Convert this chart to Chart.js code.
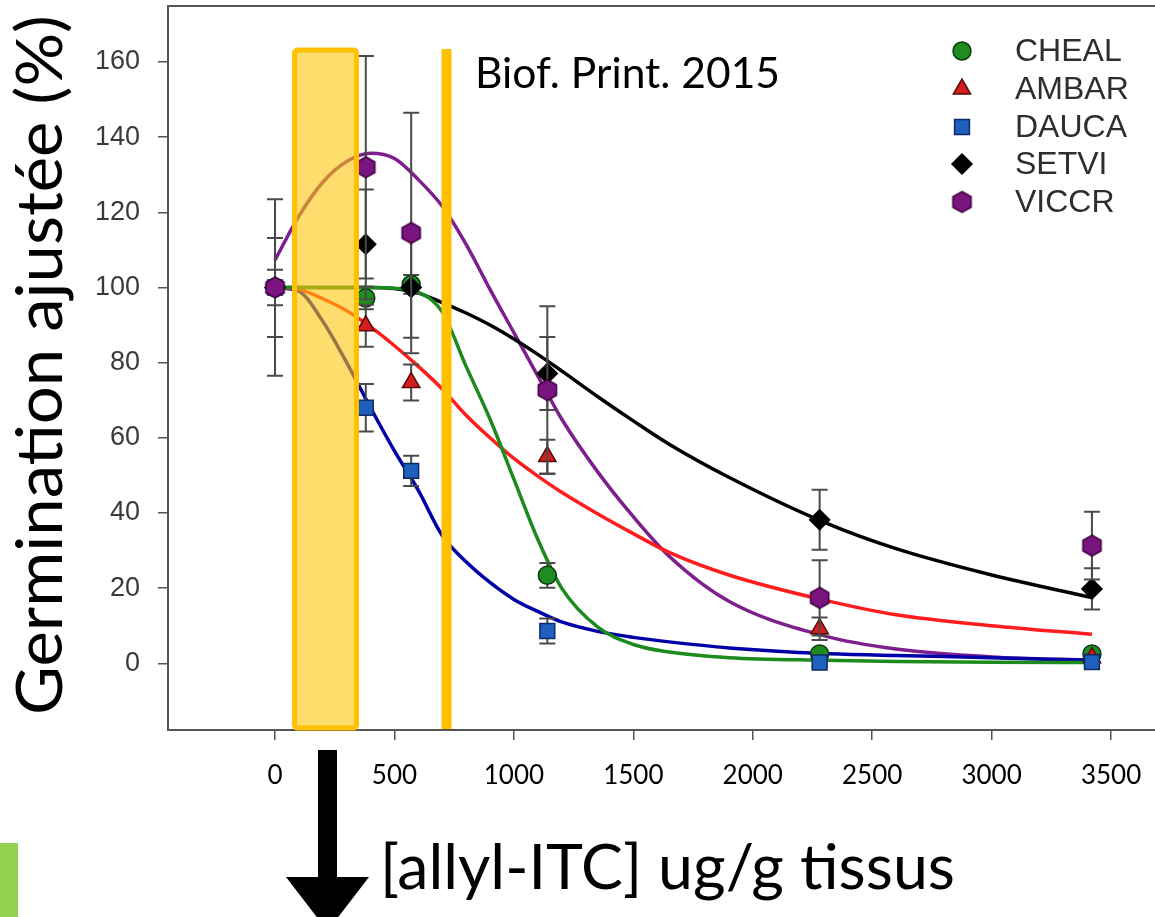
<!DOCTYPE html>
<html>
<head>
<meta charset="utf-8">
<script src="https://cdn.jsdelivr.net/npm/chart.js@4.4.1/dist/chart.umd.min.js"></script>
<style>
  html, body { margin: 0; padding: 0; background: #fff; }
  canvas { display: block; }
</style>
</head>
<body>
<canvas id="germChart" width="1155" height="917"></canvas>
<script>
// doses (ug/g) where germination was measured
const doses = [0, 380, 570, 1140, 2280, 3420];

// means and error bars per species
const chealMean = [100, 97.2, 100.8, 23.4, 2.5, 2.5];
const chealErr  = [4.7, 3, 2.5, 3.3, 1, 1];
const ambarMean = [100, 89.8, 74.7, 55, 9.2, 1.5];
const ambarErr  = [1.5, 5.6, 4.8, 4.5, 3, 1];
const daucaMean = [100, 68, 51.2, 8.6, 0.2, 0.3];
const daucaErr  = [1, 6.3, 4, 3.3, 1, 1];
const setviMean = [100, 111.5, 100, 77.1, 38.2, 19.8];
const setviErr  = [13.2, 14.6, 13.4, 9.7, 8, 5.5];
const viccrMean = [100, 132, 114.5, 72.7, 17.4, 31.3];
const viccrErr  = [23.5, 29.6, 32, 22.3, 10, 9];

// fitted curves
const fitDoses = [0, 100, 200, 300, 400, 500, 600, 700, 800, 900, 1000, 1100, 1200, 1350, 1500, 1650, 1900, 2300, 2600, 3000, 3420];
const chealFit = [100, 100, 100, 100, 100, 99.8, 98.7, 93.5, 79, 65, 49, 33, 20, 9.7, 5, 3, 1.5, 0.8, 0.5, 0.3, 0.2];
const ambarFit = [100, 99.5, 97, 93.8, 89.5, 84.5, 79, 73, 66, 60, 54.5, 49.8, 45.5, 39.8, 34.5, 29.5, 23.5, 16.8, 12.9, 10, 7.7];
const daucaFit = [100, 99, 91, 80, 68, 56.5, 46, 34, 27, 21.5, 17, 13.8, 11, 8.5, 6.9, 5.7, 4.1, 2.6, 2.1, 1.5, 0.8];
const setviFit = [100, 100, 100, 100, 100, 99.7, 98.5, 96, 93.2, 90, 86.3, 82.2, 77.8, 71, 64.5, 58.3, 49.5, 37.5, 30.5, 23.5, 17.5];
const viccrFit = [107.3, 119, 128, 133.5, 135.7, 134.3, 128.7, 121.6, 111.5, 99.5, 88, 76.5, 65, 51, 39, 28.5, 16.5, 7.3, 3.8, 1.7, 0.8];

const xTicks = [0, 500, 1000, 1500, 2000, 2500, 3000, 3500];
const yTicks = [0, 20, 40, 60, 80, 100, 120, 140, 160];

// highlighted dose range + "Biof. Print." dose
const printBand = [82, 341];
const printDose = 718;
const markTop = 163.2;

function hexagon(r, fill, edge) {
    const c = document.createElement("canvas");
    const s = Math.ceil(2 * r + 4);
    c.width = s;
    c.height = s;
    const g = c.getContext("2d");
    g.beginPath();
    for (let i = 0; i < 6; i++) {
        const a = -Math.PI / 2 + i * Math.PI / 3;
        const px = s / 2 + r * Math.cos(a);
        const py = s / 2 + r * Math.sin(a);
        if (i === 0) g.moveTo(px, py); else g.lineTo(px, py);
    }
    g.closePath();
    g.fillStyle = fill;
    g.fill();
    g.lineWidth = 1.5;
    g.strokeStyle = edge;
    g.stroke();
    return c;
}

const series = [
    { name: "CHEAL", mean: chealMean, err: chealErr, fit: chealFit, line: "#1d8a1d", fill: "#1f8c22", edge: "#0a3a0a", style: "circle", r: 9 },
    { name: "AMBAR", mean: ambarMean, err: ambarErr, fit: ambarFit, line: "#ff1c1c", fill: "#d41e1e", edge: "#5a0808", style: "triangle", r: 10 },
    { name: "DAUCA", mean: daucaMean, err: daucaErr, fit: daucaFit, line: "#0000a8", fill: "#1f5fbd", edge: "#0c2a66", style: "rect", r: 10.5 },
    { name: "SETVI", mean: setviMean, err: setviErr, fit: setviFit, line: "#000000", fill: "#000000", edge: "#000000", style: "rectRot", r: 10 },
    { name: "VICCR", mean: viccrMean, err: viccrErr, fit: viccrFit, line: "#7d1f8c", fill: "#7a157f", edge: "#3d0040", style: null, r: 10 }
];
series[4].style = hexagon(10.5, series[4].fill, series[4].edge);

const datasets = [];
series.forEach((s, i) => {
    datasets.push({
        type: "line",
        label: s.name + " fit",
        data: fitDoses.map((x, k) => ({ x: x, y: s.fit[k] })),
        borderColor: s.line,
        borderWidth: 3.5,
        pointRadius: 0,
        cubicInterpolationMode: "monotone",
        fill: false,
        order: 20 + i
    });
});
series.forEach((s, i) => {
    datasets.push({
        type: "scatter",
        label: s.name,
        data: doses.map((x, k) => ({ x: x, y: s.mean[k] })),
        pointStyle: s.style,
        pointRadius: s.r,
        backgroundColor: s.fill,
        borderColor: s.edge,
        borderWidth: 1.5,
        errors: s.err,
        order: 10 - i
    });
});

const errorBars = {
    id: "errorBars",
    beforeDatasetDraw(chart, args) {
        const ds = chart.data.datasets[args.index];
        if (!ds.errors) return;
        const { ctx, scales: { x, y } } = chart;
        ctx.save();
        ctx.strokeStyle = "#4a4a4a";
        ctx.lineWidth = 2;
        ds.data.forEach((p, k) => {
            const e = ds.errors[k];
            const px = x.getPixelForValue(p.x);
            const top = y.getPixelForValue(p.y + e);
            const bot = y.getPixelForValue(p.y - e);
            ctx.beginPath();
            ctx.moveTo(px, top); ctx.lineTo(px, bot);
            ctx.moveTo(px - 8, top); ctx.lineTo(px + 8, top);
            ctx.moveTo(px - 8, bot); ctx.lineTo(px + 8, bot);
            ctx.stroke();
        });
        ctx.restore();
    }
};

// text squeezed to a target width (Calibri-like look)
function fitText(ctx, text, x, y, width, font) {
    ctx.font = font;
    const w = ctx.measureText(text).width;
    ctx.save();
    ctx.translate(x, y);
    ctx.scale(width / w, 1);
    ctx.textAlign = "left";
    ctx.textBaseline = "alphabetic";
    ctx.fillText(text, 0, 0);
    ctx.restore();
}

const decor = {
    id: "decor",
    beforeDraw(chart) {
        const ctx = chart.ctx;
        ctx.save();
        ctx.fillStyle = "#fff";
        ctx.fillRect(0, 0, chart.width, chart.height);
        ctx.restore();
    },
    afterDatasetsDraw(chart) {
        const { ctx, chartArea, scales: { x, y } } = chart;
        const x0 = x.getPixelForValue(printBand[0]);
        const x1 = x.getPixelForValue(printBand[1]);
        const yt = y.getPixelForValue(markTop);
        const yb = chartArea.bottom - 2;
        ctx.save();
        ctx.beginPath();
        ctx.roundRect(x0, yt, x1 - x0, yb - yt, 3);
        ctx.fillStyle = "rgba(255, 199, 10, 0.6)";
        ctx.fill();
        ctx.lineWidth = 5;
        ctx.strokeStyle = "#ffc000";
        ctx.stroke();
        const lx = x.getPixelForValue(printDose);
        ctx.fillStyle = "#ffc000";
        ctx.fillRect(lx - 5, yt - 1, 10, chartArea.bottom - yt);
        ctx.restore();
    },
    afterDraw(chart) {
        const { ctx, chartArea } = chart;
        ctx.save();
        // top frame line
        ctx.strokeStyle = "#555";
        ctx.lineWidth = 2;
        ctx.beginPath();
        ctx.moveTo(chartArea.left, chartArea.top);
        ctx.lineTo(chartArea.right, chartArea.top);
        ctx.stroke();

        // legend
        const rows = [51, 89, 127, 164, 202];
        ctx.font = "32px 'Liberation Sans', Arial, sans-serif";
        ctx.textBaseline = "middle";
        series.forEach((s, i) => {
            ctx.fillStyle = s.fill;
            ctx.strokeStyle = s.edge;
            ctx.lineWidth = 1.5;
            Chart.helpers.drawPoint(ctx, { pointStyle: s.style, radius: s.r, borderWidth: 1.5, rotation: 0 }, 962, rows[i]);
            ctx.fillStyle = "#2e2e2e";
            ctx.fillText(s.name, 1015, rows[i] + 1);
        });

        ctx.fillStyle = "#000";
        fitText(ctx, "Biof. Print. 2015", 475, 88, 305, "42px Lato, sans-serif");
        fitText(ctx, "[allyl-ITC] ug/g tissus", 380, 889, 575, "62px Lato, sans-serif");

        ctx.save();
        ctx.translate(62, 715);
        ctx.rotate(-Math.PI / 2);
        fitText(ctx, "Germination ajustée (%)", 0, 0, 700, "64px Lato, sans-serif");
        ctx.restore();

        // arrow under the axis
        ctx.fillStyle = "#000";
        ctx.fillRect(318, 750, 19, 128);
        ctx.beginPath();
        ctx.moveTo(286, 877);
        ctx.lineTo(369, 877);
        ctx.lineTo(327.5, 931);
        ctx.closePath();
        ctx.fill();

        ctx.fillStyle = "#92d050";
        ctx.fillRect(0, 843, 18, 74);
        ctx.restore();
    }
};

new Chart(document.getElementById("germChart"), {
    type: "scatter",
    data: { datasets: datasets },
    options: {
        responsive: false,
        animation: false,
        layout: { autoPadding: false, padding: { top: 6, left: 0, right: 0, bottom: 0 } },
        plugins: { legend: { display: false }, tooltip: { enabled: false } },
        scales: {
            x: {
                type: "linear",
                min: -448,
                max: 3684,
                afterBuildTicks: (s) => { s.ticks = xTicks.map((v) => ({ value: v })); },
                afterFit: (s) => { s.height = 187; s.paddingLeft = 0; s.paddingRight = 0; },
                grid: { drawOnChartArea: false, drawTicks: true, tickLength: 10, color: "#555", lineWidth: 1.5 },
                border: { display: true, color: "#555", width: 2 },
                ticks: {
                    autoSkip: false,
                    maxRotation: 0,
                    padding: 20,
                    color: "#000",
                    font: { family: "Lato", size: 26 },
                    callback: (v) => String(v)
                }
            },
            y: {
                min: -17.75,
                max: 174.9,
                afterBuildTicks: (s) => { s.ticks = yTicks.map((v) => ({ value: v })); },
                afterFit: (s) => { s.width = 168; s.paddingTop = 0; s.paddingBottom = 0; },
                grid: { drawOnChartArea: false, drawTicks: true, tickLength: 10, color: "#555", lineWidth: 1.5 },
                border: { display: true, color: "#555", width: 2 },
                ticks: {
                    padding: 18,
                    color: "#3a3a3a",
                    font: { family: "'Liberation Sans', Arial", size: 27 },
                    callback: (v) => String(v)
                }
            }
        }
    },
    plugins: [errorBars, decor]
});
</script>
</body>
</html>
